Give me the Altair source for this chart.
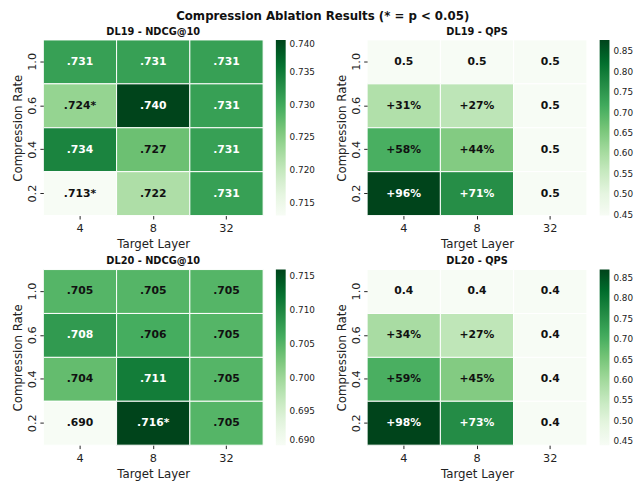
import altair as alt
import pandas as pd

layers = ["4", "8", "32"]
rates = ["1.0", "0.6", "0.4", "0.2"]

# rows follow rates (1.0, 0.6, 0.4, 0.2), columns follow layers (4, 8, 32)
dl19_ndcg = [
    [0.731, 0.731, 0.731],
    [0.724, 0.740, 0.731],
    [0.734, 0.727, 0.731],
    [0.713, 0.722, 0.731],
]
dl19_ndcg_labels = [
    [".731", ".731", ".731"],
    [".724*", ".740", ".731"],
    [".734", ".727", ".731"],
    [".713*", ".722", ".731"],
]
dl19_qps = [
    [0.448, 0.448, 0.448],
    [0.587, 0.569, 0.448],
    [0.708, 0.645, 0.448],
    [0.878, 0.766, 0.448],
]
dl19_qps_labels = [
    ["0.5", "0.5", "0.5"],
    ["+31%", "+27%", "0.5"],
    ["+58%", "+44%", "0.5"],
    ["+96%", "+71%", "0.5"],
]
dl20_ndcg = [
    [0.705, 0.705, 0.705],
    [0.708, 0.706, 0.705],
    [0.704, 0.711, 0.705],
    [0.690, 0.716, 0.705],
]
dl20_ndcg_labels = [
    [".705", ".705", ".705"],
    [".708", ".706", ".705"],
    [".704", ".711", ".705"],
    [".690", ".716*", ".705"],
]
dl20_qps = [
    [0.440, 0.440, 0.440],
    [0.590, 0.559, 0.440],
    [0.700, 0.638, 0.440],
    [0.871, 0.761, 0.440],
]
dl20_qps_labels = [
    ["0.4", "0.4", "0.4"],
    ["+34%", "+27%", "0.4"],
    ["+59%", "+45%", "0.4"],
    ["+98%", "+73%", "0.4"],
]

ndcg19_ticks = [0.715, 0.720, 0.725, 0.730, 0.735, 0.740]
ndcg20_ticks = [0.690, 0.695, 0.700, 0.705, 0.710, 0.715]
qps_ticks = [0.45, 0.50, 0.55, 0.60, 0.65, 0.70, 0.75, 0.80, 0.85]

# matplotlib "Greens" colormap stops
greens = ["#f7fcf5", "#e5f5e0", "#c7e9c0", "#a1d99b", "#74c476",
          "#41ab5d", "#238b45", "#006d2c", "#00441b"]

FONT = "DejaVu Sans"
W, H = 224, 179


def frame(values, labels):
    vmin = min(min(r) for r in values)
    vmax = max(max(r) for r in values)
    rows = []
    for i, rate in enumerate(rates):
        for j, layer in enumerate(layers):
            v = values[i][j]
            rows.append({
                "rate": rate,
                "layer": layer,
                "value": v,
                "label": labels[i][j],
                "norm": (v - vmin) / (vmax - vmin),
            })
    n = len(greens) - 1
    dom = [vmin + (vmax - vmin) * k / n for k in range(n + 1)]
    return pd.DataFrame(rows), dom


def panel(values, labels, title, ticks, fmt):
    df, dom = frame(values, labels)
    base = alt.Chart(df).encode(
        x=alt.X("layer:O", sort=layers, title="Target Layer",
                axis=alt.Axis(labelAngle=0, domain=False, tickSize=3.5,
                              labelPadding=4, titlePadding=5, labelFontSize=11.5,
                              titleFontSize=12, titleFontWeight="normal",
                              labelColor="#222", titleColor="#222", tickColor="#222")),
        y=alt.Y("rate:O", sort=rates, title="Compression Rate",
                axis=alt.Axis(labelAngle=-90, labelAlign="center", labelBaseline="bottom",
                              domain=False, tickSize=3.5, labelPadding=2, titlePadding=3,
                              labelFontSize=11.5, titleFontSize=12,
                              titleFontWeight="normal", labelColor="#222",
                              titleColor="#222", tickColor="#222")),
    )
    rect = base.mark_rect(stroke="white", strokeWidth=1).encode(
        color=alt.Color(
            "value:Q",
            scale=alt.Scale(domain=dom, range=greens, interpolate="rgb"),
            legend=alt.Legend(title=None, values=ticks, format=fmt, gradientLength=H,
                              gradientThickness=10, gradientStrokeWidth=0, offset=13,
                              labelFontSize=9, labelColor="#222", labelOverlap=False,
                              labelBaseline="middle", labelOffset=4, padding=0),
        )
    )
    text = base.mark_text(font=FONT, fontWeight="bold", fontSize=11).encode(
        text="label:N",
        color=alt.condition("datum.norm > 0.62", alt.value("white"), alt.value("#111")),
    )
    return alt.layer(rect, text).properties(
        width=W, height=H,
        title=alt.TitleParams(title, font=FONT, fontSize=10, fontWeight="bold",
                              color="#111", offset=3),
    )


p1 = panel(dl19_ndcg, dl19_ndcg_labels, "DL19 - NDCG@10", ndcg19_ticks, ".3f")
p2 = panel(dl19_qps, dl19_qps_labels, "DL19 - QPS", qps_ticks, ".2f")
p3 = panel(dl20_ndcg, dl20_ndcg_labels, "DL20 - NDCG@10", ndcg20_ticks, ".3f")
p4 = panel(dl20_qps, dl20_qps_labels, "DL20 - QPS", qps_ticks, ".2f")

top = alt.hconcat(p1, p2, spacing=20).resolve_scale(color="independent")
bottom = alt.hconcat(p3, p4, spacing=20).resolve_scale(color="independent")

chart = alt.vconcat(top, bottom, spacing=6).resolve_scale(color="independent").properties(
    title=alt.TitleParams("Compression Ablation Results (* = p < 0.05)", font=FONT,
                          fontSize=12, fontWeight="bold", color="#111", anchor="middle",
                          offset=4),
    padding={"left": 3, "top": -3, "right": 0, "bottom": 0},
).configure(font=FONT).configure_view(stroke=None)

chart.save("out.html", embed_options={"renderer": "svg", "actions": False})
